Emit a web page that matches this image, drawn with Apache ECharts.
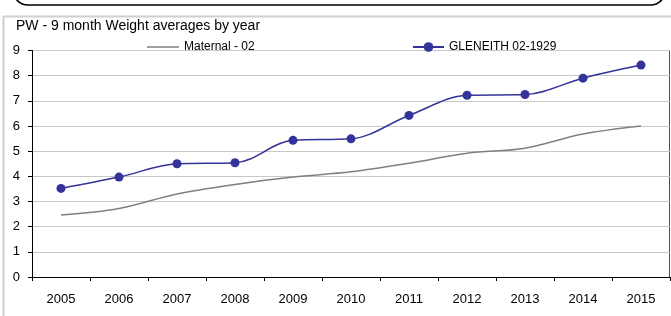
<!DOCTYPE html>
<html>
<head>
<meta charset="utf-8">
<script src="https://cdn.jsdelivr.net/npm/echarts@6/dist/echarts.min.js"></script>
<style>
  html, body { margin: 0; padding: 0; background: #fff; }
  #chart { width: 671px; height: 316px; }
</style>
</head>
<body>
<div id="chart"></div>
<script>
// data
var years = ['2005', '2006', '2007', '2008', '2009', '2010', '2011', '2012', '2013', '2014', '2015']
var maternal = [2.46, 2.72, 3.3, 3.68, 3.97, 4.18, 4.52, 4.92, 5.12, 5.68, 6.0]
var gleneith = [3.52, 3.97, 4.5, 4.54, 5.43, 5.49, 6.42, 7.22, 7.25, 7.9, 8.42]
var yTicks = [0, 1, 2, 3, 4, 5, 6, 7, 8, 9]

var FONT = '"Liberation Sans", Arial, sans-serif'
// plot area edges
var GL = 32, GR = 670, GT = 50.5, GB = 277

var chart = echarts.init(document.getElementById('chart'))
chart.setOption({
  animation: false,
  title: {
    text: 'PW - 9 month Weight averages by year',
    left: 16,
    top: 19,
    padding: 0,
    textStyle: { fontFamily: FONT, fontSize: 14, fontWeight: 'normal', color: '#000' }
  },
  legend: [
    {
      // plain line, no marker
      data: [{ name: 'Maternal - 02', icon: 'rect' }],
      left: 147,
      top: 41,
      padding: 0,
      itemWidth: 32,
      itemHeight: 1.5,
      textStyle: { fontFamily: FONT, fontSize: 12, color: '#000', lineHeight: 12 }
    },
    {
      data: ['GLENEITH 02-1929'],
      left: 412,
      top: 41,
      padding: 0,
      itemWidth: 31,
      itemHeight: 12,
      textStyle: { fontFamily: FONT, fontSize: 12, color: '#000', lineHeight: 12 }
    }
  ],
  grid: { left: GL, right: 671 - GR, top: GT, bottom: 316 - GB },
  xAxis: {
    type: 'category',
    data: years,
    boundaryGap: true,
    axisLine: { lineStyle: { color: '#000', width: 1 } },
    axisTick: { show: true, length: 4, lineStyle: { color: '#000' } },
    axisLabel: { fontFamily: FONT, fontSize: 13, color: '#000', margin: 16 }
  },
  yAxis: {
    type: 'value',
    min: yTicks[0],
    max: yTicks[yTicks.length - 1],
    interval: 1,
    axisLine: { show: true, lineStyle: { color: '#000', width: 1 } },
    axisTick: { show: true, length: 4, lineStyle: { color: '#000' } },
    axisLabel: { fontFamily: FONT, fontSize: 13, color: '#000', margin: 12 },
    splitLine: { show: true, lineStyle: { color: '#c8c8c8', width: 1 } }
  },
  series: [
    {
      name: 'Maternal - 02',
      type: 'line',
      data: maternal,
      smooth: 0.35,
      symbol: 'none',
      itemStyle: { color: '#808080' },
      lineStyle: { color: '#808080', width: 1.5 }
    },
    {
      name: 'GLENEITH 02-1929',
      type: 'line',
      data: gleneith,
      smooth: 0.35,
      symbol: 'circle',
      symbolSize: 9,
      itemStyle: { color: '#333399' },
      lineStyle: { color: '#333399', width: 1.5 }
    }
  ],
  graphic: [
    // outer grey frame
    {
      type: 'rect', silent: true, z: -1,
      shape: { x: 3.5, y: 16.5, width: 720, height: 400 },
      style: { fill: null, stroke: '#d0d0d0', lineWidth: 2 }
    },
    // bottom of the rounded box above
    {
      type: 'rect', silent: true,
      shape: { x: 13, y: -40, width: 652.5, height: 45, r: 15 },
      style: { fill: null, stroke: '#000', lineWidth: 1.5 }
    },
    // plot border pieces not hidden by the legend
    {
      type: 'line', silent: true,
      shape: { x1: GL, y1: GT, x2: 67, y2: GT },
      style: { stroke: '#707070', lineWidth: 1 }
    },
    {
      type: 'line', silent: true,
      shape: { x1: 632, y1: GT, x2: GR, y2: GT },
      style: { stroke: '#505050', lineWidth: 1 }
    },
    {
      type: 'line', silent: true,
      shape: { x1: GR - 0.5, y1: GT, x2: GR - 0.5, y2: GB },
      style: { stroke: '#505050', lineWidth: 1 }
    }
  ]
})
</script>
</body>
</html>
